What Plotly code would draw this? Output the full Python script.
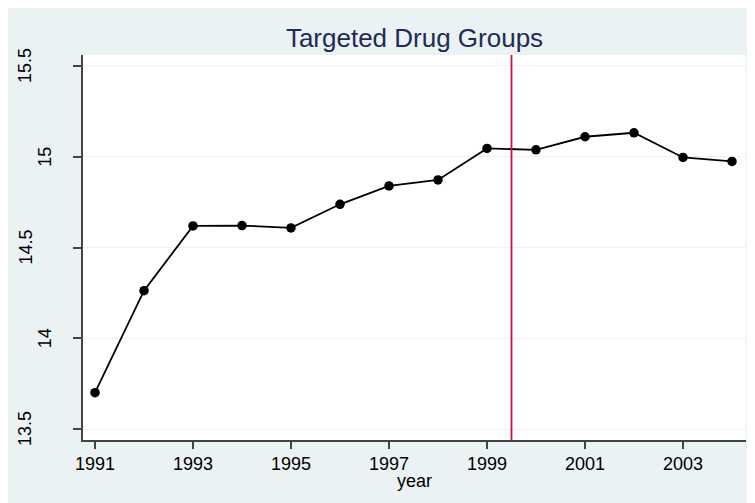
import plotly.graph_objects as go

years = [1991, 1992, 1993, 1994, 1995, 1996, 1997, 1998, 1999, 2000, 2001, 2002, 2003, 2004]
values = [13.70, 14.262, 14.619, 14.621, 14.608, 14.738, 14.839, 14.872, 15.046, 15.038, 15.110, 15.132, 14.996, 14.974]
x_ticks = [1991, 1993, 1995, 1997, 1999, 2001, 2003]
y_ticks = [13.5, 14, 14.5, 15, 15.5]
y_tick_labels = ["13.5", "14", "14.5", "15", "15.5"]
break_year = 1999.5
title_text = "Targeted Drug Groups"
x_title = "year"

BG = "#EAF2F3"
FONT = "Liberation Sans, Arial, sans-serif"

# The page body has an 8px margin, which gives the white strip at top/left.
W, H = 747, 495

fig = go.Figure()
fig.add_trace(go.Scatter(
    x=years, y=values, mode="lines+markers",
    line=dict(color="black", width=1.8),
    marker=dict(color="black", size=9.5),
    showlegend=False,
))

fig.add_shape(type="line", xref="x", yref="paper", x0=break_year, x1=break_year, y0=0, y1=1,
              line=dict(color="#CC1040", width=1.8))

for v, lab in zip(y_ticks, y_tick_labels):
    shift = -58 if len(lab) > 2 else -38
    fig.add_annotation(x=0, xref="paper", y=v, yref="y", text=lab, showarrow=False,
                       textangle=-90, xanchor="center", yanchor="middle", xshift=shift,
                       font=dict(family=FONT, size=18, color="black"))

fig.add_annotation(x=0.5, xref="paper", y=0, yref="paper", text=x_title, showarrow=False,
                   xanchor="center", yanchor="top", yshift=-29,
                   font=dict(family=FONT, size=18, color="black"))

fig.update_layout(
    width=W, height=H,
    margin=dict(l=75, r=9, t=47, b=63),
    paper_bgcolor=BG, plot_bgcolor="white",
    title=dict(text=title_text, x=0.5, xref="paper", y=1 - 39 / H, yref="container",
               xanchor="center", yanchor="bottom",
               font=dict(family=FONT, size=26, color="#1E2B55")),
    font=dict(family=FONT, color="black"),
)
fig.update_xaxes(
    range=[1990.755, 2004.286], tickvals=x_ticks, ticktext=[str(t) for t in x_ticks],
    showgrid=False, zeroline=False, showline=True, linecolor="#444", linewidth=1.5,
    ticks="outside", ticklen=7, tickcolor="#444", tickwidth=1.5,
    tickfont=dict(family=FONT, size=18, color="black"),
)
fig.update_yaxes(
    range=[13.4396, 15.5604], tickvals=y_ticks, showticklabels=False,
    showgrid=True, gridcolor=BG, gridwidth=1, zeroline=False,
    showline=True, linecolor="#444", linewidth=1.5,
    ticks="outside", ticklen=8, tickcolor="#444", tickwidth=1.5,
)

fig.write_html("out.html")
